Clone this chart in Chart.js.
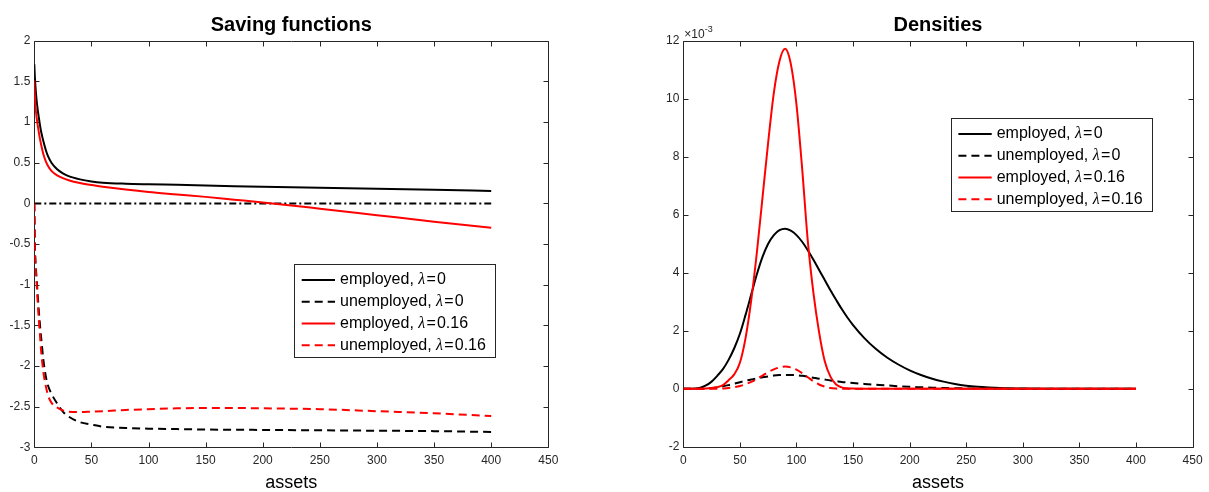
<!DOCTYPE html>
<html><head><meta charset="utf-8">
<script src="https://cdn.jsdelivr.net/npm/chart.js@4.4.0/dist/chart.umd.min.js"></script>
<style>
html,body{margin:0;padding:0;background:#fff;}
#wrap{position:relative;width:1209px;height:492px;overflow:hidden;background:#fff;}
.c{position:absolute;top:0;height:492px;}
#c1{left:0;width:604px;}
#c2{left:604px;width:605px;}
</style></head><body>
<div id="wrap"><div class="c" id="c1"><canvas id="left"></canvas></div><div class="c" id="c2"><canvas id="right"></canvas></div></div>
<script>
// ---------- data ----------
const legendNames = ['employed, λ=0', 'unemployed, λ=0', 'employed, λ=0.16', 'unemployed, λ=0.16'];
const xTicks = [0, 50, 100, 150, 200, 250, 300, 350, 400, 450];
const savingYTicks = [-3, -2.5, -2, -1.5, -1, -0.5, 0, 0.5, 1, 1.5, 2];
const densYTicks = [-2, 0, 2, 4, 6, 8, 10, 12];

const savingAssets = [0,0.5,1,2,3,4,5,6,8,10,12,15,20,25,30,40,50,60,80,100,125,150,175,200,250,300,350,400];
const savingEmployedL0 = [1.71,1.55,1.44,1.27,1.15,1.05,0.96,0.88,0.76,0.66,0.58,0.50,0.42,0.37,0.335,0.295,0.27,0.255,0.242,0.235,0.228,0.22,0.212,0.205,0.192,0.18,0.167,0.153];
const savingUnemployedL0 = [0,-0.5,-0.7,-0.92,-1.13,-1.33,-1.5,-1.65,-1.93,-2.12,-2.24,-2.34,-2.46,-2.56,-2.62,-2.69,-2.72,-2.745,-2.76,-2.77,-2.775,-2.78,-2.783,-2.785,-2.79,-2.795,-2.8,-2.81];
const savingEmployedL16 = [1.51,1.32,1.2,1.06,0.96,0.87,0.79,0.72,0.60,0.52,0.46,0.40,0.345,0.31,0.285,0.25,0.225,0.205,0.17,0.14,0.11,0.08,0.046,0.012,-0.065,-0.145,-0.225,-0.30];
const savingUnemployedL16 = [0,-0.55,-0.75,-0.97,-1.22,-1.44,-1.63,-1.82,-2.08,-2.24,-2.36,-2.45,-2.51,-2.545,-2.56,-2.565,-2.56,-2.555,-2.54,-2.53,-2.52,-2.515,-2.515,-2.52,-2.53,-2.555,-2.58,-2.615];
const zeroAssets = [0, 400];
const zeroValues = [0, 0];

// densities, in units of 1e-3
const densAssets = [0,5,10,15,20,25,30,35,40,45,50,55,60,65,70,75,80,85,90,95,100,105,110,115,120,125,130,135,140,145,150,160,170,180,190,200,210,220,230,240,250,260,270,280,300,320,350,400];
const densEmployedL0 = [0,0,0.01,0.04,0.12,0.25,0.45,0.68,1.0,1.4,1.9,2.55,3.25,3.95,4.55,5.0,5.3,5.47,5.52,5.45,5.3,5.07,4.78,4.45,4.1,3.75,3.4,3.07,2.75,2.46,2.2,1.75,1.38,1.08,0.84,0.64,0.48,0.35,0.25,0.17,0.11,0.07,0.045,0.028,0.01,0.003,0,0];
const densUnemployedL0 = [0,0,0,0.005,0.01,0.025,0.05,0.09,0.13,0.18,0.23,0.28,0.32,0.36,0.4,0.43,0.46,0.475,0.48,0.478,0.47,0.45,0.42,0.385,0.35,0.32,0.29,0.265,0.24,0.22,0.2,0.17,0.145,0.12,0.09,0.07,0.055,0.04,0.03,0.022,0.015,0.01,0.007,0.005,0.002,0,0,0];
const densEmployedL16 = [0,0,0,0.005,0.01,0.03,0.06,0.13,0.3,0.5,0.9,1.75,3.05,4.7,6.6,8.5,10.2,11.3,11.72,11.2,9.8,7.6,5.1,3.3,1.95,0.95,0.42,0.15,0.05,0.02,0.01,0,0,0,0,0,0,0,0,0,0,0,0,0,0,0,0,0];
const densUnemployedL16 = [0,0,0,0,0,0,0.005,0.015,0.03,0.06,0.1,0.16,0.24,0.34,0.46,0.58,0.67,0.74,0.77,0.74,0.66,0.54,0.4,0.26,0.15,0.08,0.03,0.01,0,0,0,0,0,0,0,0,0,0,0,0,0,0,0,0,0,0,0,0];

// ---------- helpers ----------
const AX = '#262626';
const SANS = '"Liberation Sans", Arial, sans-serif';
const pts = (xs, ys) => xs.map((x, i) => ({x, y: ys[i]}));

function ds(label, xs, ys, color, dash, order, inLegend) {
  return {label, data: pts(xs, ys), borderColor: color, backgroundColor: color, borderWidth: 2,
    borderDash: dash, pointRadius: 0, fill: false, cubicInterpolationMode: 'monotone',
    order, inLegend, borderCapStyle: 'butt'};
}

const matlabPlugin = {
  id: 'matlab',
  beforeDatasetsDraw(chart) {
    const {ctx, chartArea: a, scales: {x, y}} = chart;
    const L = Math.round(a.left) + 0.5, R = Math.round(a.right) + 0.5, T = Math.round(a.top) + 0.5, B = Math.round(a.bottom) + 0.5;
    ctx.save();
    ctx.strokeStyle = AX; ctx.lineWidth = 1;
    ctx.beginPath();
    ctx.rect(L, T, R - L, B - T);
    const tl = 5;
    x.ticks.forEach(t => {
      const p = Math.round(x.getPixelForValue(t.value)) + 0.5;
      ctx.moveTo(p, B); ctx.lineTo(p, B - tl);
      ctx.moveTo(p, T); ctx.lineTo(p, T + tl);
    });
    y.ticks.forEach(t => {
      const p = Math.round(y.getPixelForValue(t.value)) + 0.5;
      ctx.moveTo(L, p); ctx.lineTo(L + tl, p);
      ctx.moveTo(R, p); ctx.lineTo(R - tl, p);
    });
    ctx.stroke();
    ctx.restore();
  },
  afterDraw(chart, args, opts) {
    const ctx = chart.ctx;
    const a = chart.chartArea;
    if (opts.exponent) {
      ctx.save();
      ctx.fillStyle = AX;
      ctx.textBaseline = 'alphabetic';
      ctx.font = '12px ' + SANS;
      ctx.fillText('×10', a.left + 1, a.top - 3);
      const w = ctx.measureText('×10').width;
      ctx.font = '9px ' + SANS;
      ctx.fillText('-3', a.left + 1 + w, a.top - 9);
      ctx.restore();
    }
    const box = opts.legend;
    if (!box) return;
    ctx.save();
    ctx.fillStyle = '#fff';
    ctx.fillRect(box.x, box.y, box.w, box.h);
    ctx.strokeStyle = AX; ctx.lineWidth = 1;
    ctx.strokeRect(Math.round(box.x) + 0.5, Math.round(box.y) + 0.5, Math.round(box.w), Math.round(box.h));
    const items = chart.data.datasets.filter(d => d.inLegend);
    const F = 16, gap = 1.2;
    items.forEach((d, i) => {
      const cy = box.y + 15.6 + i * 21.8;
      ctx.strokeStyle = d.borderColor; ctx.lineWidth = 2;
      ctx.setLineDash(d.borderDash || []);
      ctx.beginPath(); ctx.moveTo(box.x + 7.4, cy); ctx.lineTo(box.x + 40.7, cy); ctx.stroke();
      ctx.setLineDash([]);
      ctx.fillStyle = '#000';
      ctx.textBaseline = 'middle';
      let tx = box.x + 45.7;
      const [pre, post] = d.label.split('λ');
      const val = post.replace('=', '');
      ctx.font = F + 'px ' + SANS;
      ctx.fillText(pre, tx, cy); tx += ctx.measureText(pre).width;
      ctx.font = 'italic ' + F + 'px "Liberation Serif", serif';
      ctx.fillText('λ', tx, cy); tx += ctx.measureText('λ').width + gap;
      ctx.font = F + 'px ' + SANS;
      ctx.fillText('=', tx, cy); tx += ctx.measureText('=').width + gap;
      ctx.fillText(val, tx, cy);
    });
    ctx.restore();
  }
};

function makeOptions(cfg) {
  return {
    responsive: true, maintainAspectRatio: false, animation: false, devicePixelRatio: 1,
    layout: {padding: {left: 0, right: cfg.padRight, top: 0, bottom: 0}},
    plugins: {
      legend: {display: false}, tooltip: {enabled: false},
      title: {display: true, text: cfg.title, fullSize: false, color: '#000',
        font: {family: SANS, size: 20, weight: 'bold', lineHeight: 1.2}, padding: {top: 13, bottom: 3.7}},
      matlab: {legend: cfg.legend, exponent: cfg.exponent}
    },
    scales: {
      x: {type: 'linear', min: 0, max: 450, border: {display: false}, grid: {display: false, drawTicks: false},
        afterBuildTicks: s => { s.ticks = xTicks.map(v => ({value: v})); },
        ticks: {color: AX, font: {family: SANS, size: 12}, padding: 6.4, maxRotation: 0, callback: v => String(v)},
        title: {display: true, text: 'assets', color: '#000', font: {family: SANS, size: 18, lineHeight: 1}, padding: {top: 0, bottom: 0}},
        afterFit: s => { s.height = 492 - cfg.bottom; }},
      y: {type: 'linear', min: cfg.ymin, max: cfg.ymax, border: {display: false}, grid: {display: false, drawTicks: false},
        afterBuildTicks: s => { s.ticks = cfg.yTicks.map(v => ({value: v})); },
        ticks: {color: AX, font: {family: SANS, size: 12}, padding: 4, callback: v => String(v)},
        afterFit: s => { s.width = cfg.yWidth; }}
    }
  };
}

Chart.register(matlabPlugin);

new Chart(document.getElementById('left'), {
  type: 'line',
  data: {datasets: [
    ds(legendNames[0], savingAssets, savingEmployedL0, '#000000', [], 4, true),
    ds(legendNames[1], savingAssets, savingUnemployedL0, '#000000', [8, 5], 3, true),
    ds(legendNames[2], savingAssets, savingEmployedL16, '#ff0000', [], 1, true),
    ds(legendNames[3], savingAssets, savingUnemployedL16, '#ff0000', [8, 5], 0, true),
    ds('zero', zeroAssets, zeroValues, '#000000', [7, 3, 2, 3], 2, false)
  ]},
  options: makeOptions({title: 'Saving functions', padRight: 55.7, bottom: 447.4, ymin: -3, ymax: 2,
    yTicks: savingYTicks, yWidth: 34.3, legend: {x: 294.3, y: 264.3, w: 200.7, h: 93}, exponent: false})
});

new Chart(document.getElementById('right'), {
  type: 'line',
  data: {datasets: [
    ds(legendNames[0], densAssets, densEmployedL0, '#000000', [], 4, true),
    ds(legendNames[1], densAssets, densUnemployedL0, '#000000', [8, 5], 3, true),
    ds(legendNames[2], densAssets, densEmployedL16, '#ff0000', [], 1, true),
    ds(legendNames[3], densAssets, densUnemployedL16, '#ff0000', [8, 5], 0, true)
  ]},
  options: makeOptions({title: 'Densities', padRight: 11, bottom: 446.9, ymin: -2, ymax: 12,
    yTicks: densYTicks, yWidth: 79.3, legend: {x: 347, y: 118.3, w: 201.3, h: 92.7}, exponent: true})
});
</script>
</body></html>
